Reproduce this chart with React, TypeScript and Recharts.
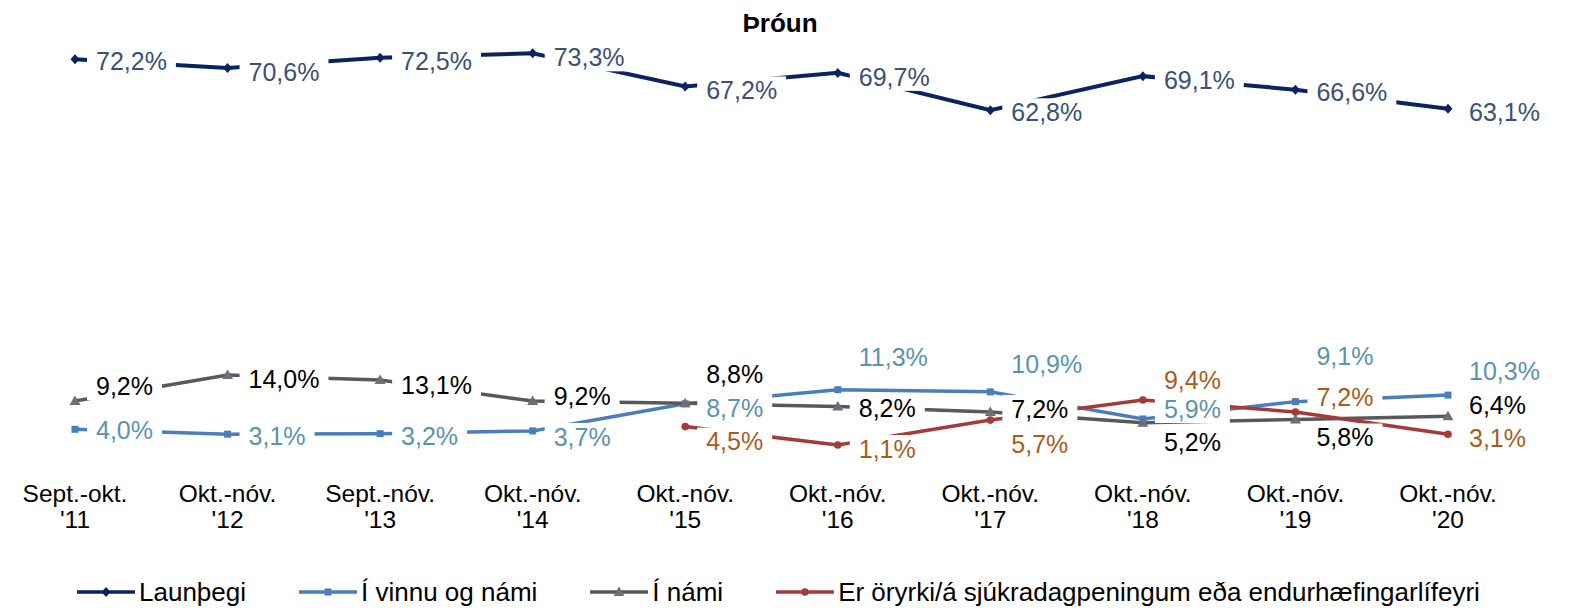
import { LineChart, Line, XAxis, YAxis, LabelList } from 'recharts';

const periods = ['Sept.-okt.', 'Okt.-nóv.', 'Sept.-nóv.', 'Okt.-nóv.', 'Okt.-nóv.', 'Okt.-nóv.', 'Okt.-nóv.', 'Okt.-nóv.', 'Okt.-nóv.', 'Okt.-nóv.'];
const years = ["'11", "'12", "'13", "'14", "'15", "'16", "'17", "'18", "'19", "'20"];

const launthegi = [72.2, 70.6, 72.5, 73.3, 67.2, 69.7, 62.8, 69.1, 66.6, 63.1];
const vinnuNami = [4.0, 3.1, 3.2, 3.7, 8.7, 11.3, 10.9, 5.9, 9.1, 10.3];
const iNami = [9.2, 14.0, 13.1, 9.2, 8.8, 8.2, 7.2, 5.2, 5.8, 6.4];
const oryrki = [null, null, null, null, 4.5, 1.1, 5.7, 9.4, 7.2, 3.1];

// vertical nudge of each data label from its point (px)
const launDy = [2, 4, 4, 4, 4, 4, 2, 4, 3, 4];
const vinnuDy = [1, 2, 3, 6, 4, -32, -28, -10, -45, -24];
const namiDy = [-15, 4, 5, -5, -29, 2, -3, 19, 18, -11];
const oryrkiDy = [0, 0, 0, 0, 15, 4, 24, -20, -15, 4];

const data = periods.map((p, i) => ({
  cat: `${p}\n${years[i]}`,
  launthegi: launthegi[i],
  vinnuNami: vinnuNami[i],
  iNami: iNami[i],
  oryrki: oryrki[i],
}));

const FONT = '"Liberation Sans", Arial, sans-serif';
const C = {
  navy: '#0b2360', navyText: '#3c5074',
  blue: '#4a7ebb', blueText: '#5b93ad',
  gray: '#595959', grayMark: '#6e6e7a',
  red: '#a53a3b', redText: '#a85c1c',
};

const charW: Record<string, number> = { ',': 0.278, '%': 0.889 };
const fmt = (v: number) => v.toFixed(1).replace('.', ',') + '%';
const textW = (s: string, size: number) => s.split('').reduce((a, ch) => a + (charW[ch] ?? 0.556), 0) * size;

function makeLabel(color: string, dys: number[]) {
  return (props: any) => {
    const { x, y, value, index } = props;
    if (value == null || x == null || y == null) return null;
    const tx = Number(x) + 21;
    const cy = Number(y) + dys[index];
    const s = fmt(Number(value));
    const w = textW(s, 25);
    return (
      <g>
        <rect x={tx - 9} y={cy - 14} width={w + 18} height={28} fill="#fff" />
        <text x={tx} y={cy} dy="0.35em" fontSize={25} fontFamily={FONT} fill={color}>{s}</text>
      </g>
    );
  };
}

const Diamond = ({ cx, cy, fill }: any) => (
  <path d={`M${cx},${cy - 5}L${cx + 4.5},${cy}L${cx},${cy + 5}L${cx - 4.5},${cy}Z`} fill={fill} />
);
const Square = ({ cx, cy, fill }: any) => <rect x={cx - 3.5} y={cy - 3.5} width={7} height={7} fill={fill} />;
const Triangle = ({ cx, cy, fill }: any) => (
  <path d={`M${cx},${cy - 5.5}L${cx + 5.5},${cy + 4}L${cx - 5.5},${cy + 4}Z`} fill={fill} />
);
const Circle = ({ cx, cy, fill }: any) => <circle cx={cx} cy={cy} r={3.8} fill={fill} />;

function dotOf(Shape: any, fill: string) {
  return (p: any) => {
    if (p.cx == null || p.cy == null || p.value == null) return <g key={p.index} />;
    return <Shape key={p.index} cx={p.cx} cy={p.cy} fill={fill} />;
  };
}

const CatTick = ({ x, y, payload }: any) => {
  const [a, b] = String(payload.value).split('\n');
  return (
    <text x={x} y={y} textAnchor="middle" fontSize={24.5} fontFamily={FONT} fill="#000">
      <tspan x={x} dy={50.5}>{a}</tspan>
      <tspan x={x} dy={26.5}>{b}</tspan>
    </text>
  );
};

const legendItems = [
  { name: 'Launþegi', color: C.navy, Shape: Diamond, mark: C.navy },
  { name: 'Í vinnu og námi', color: C.blue, Shape: Square, mark: C.blue },
  { name: 'Í námi', color: C.gray, Shape: Triangle, mark: C.grayMark },
  { name: 'Er öryrki/á sjúkradagpeningum eða endurhæfingarlífeyri', color: C.red, Shape: Circle, mark: C.red },
];

export default function App() {
  return (
    <div style={{ position: 'absolute', left: 0, top: 0, width: 1572, height: 610, background: '#fff', fontFamily: FONT }}>
      <div style={{ position: 'absolute', left: 0, top: 8, width: 1560, textAlign: 'center', fontSize: 26, fontWeight: 700, lineHeight: '30px' }}>
        Þróun
      </div>
      <LineChart width={1572} height={610} data={data} margin={{ top: 17, right: 124, left: 75, bottom: 89 }}>
        <XAxis dataKey="cat" axisLine={false} tickLine={false} tickSize={0} tickMargin={0} height={70} interval={0} tick={<CatTick />} />
        <YAxis hide domain={[0, 80]} />
        <Line dataKey="launthegi" stroke={C.navy} strokeWidth={4} dot={dotOf(Diamond, C.navy)} activeDot={false} isAnimationActive={false} />
        <Line dataKey="vinnuNami" stroke={C.blue} strokeWidth={3.5} dot={dotOf(Square, C.blue)} activeDot={false} isAnimationActive={false} />
        <Line dataKey="iNami" stroke={C.gray} strokeWidth={3.5} dot={dotOf(Triangle, C.grayMark)} activeDot={false} isAnimationActive={false} />
        <Line dataKey="oryrki" stroke={C.red} strokeWidth={3.5} dot={dotOf(Circle, C.red)} activeDot={false} isAnimationActive={false} />
        {/* label layers drawn over every line */}
        <Line dataKey="launthegi" stroke="none" dot={false} activeDot={false} isAnimationActive={false}>
          <LabelList dataKey="launthegi" content={makeLabel(C.navyText, launDy)} />
        </Line>
        <Line dataKey="vinnuNami" stroke="none" dot={false} activeDot={false} isAnimationActive={false}>
          <LabelList dataKey="vinnuNami" content={makeLabel(C.blueText, vinnuDy)} />
        </Line>
        <Line dataKey="iNami" stroke="none" dot={false} activeDot={false} isAnimationActive={false}>
          <LabelList dataKey="iNami" content={makeLabel('#000', namiDy)} />
        </Line>
        <Line dataKey="oryrki" stroke="none" dot={false} activeDot={false} isAnimationActive={false}>
          <LabelList dataKey="oryrki" content={makeLabel(C.redText, oryrkiDy)} />
        </Line>
      </LineChart>
      <div style={{ position: 'absolute', left: 77, top: 577, height: 30, display: 'flex', alignItems: 'center', gap: 53 }}>
        {legendItems.map((it) => (
          <div key={it.name} style={{ display: 'flex', alignItems: 'center' }}>
            <svg width={58} height={20} style={{ marginRight: 4 }}>
              <line x1={0} y1={10} x2={58} y2={10} stroke={it.color} strokeWidth={3.5} />
              <it.Shape cx={29} cy={10} fill={it.mark} />
            </svg>
            <span style={{ fontSize: 26, lineHeight: '30px', color: '#000' }}>{it.name}</span>
          </div>
        ))}
      </div>
    </div>
  );
}
